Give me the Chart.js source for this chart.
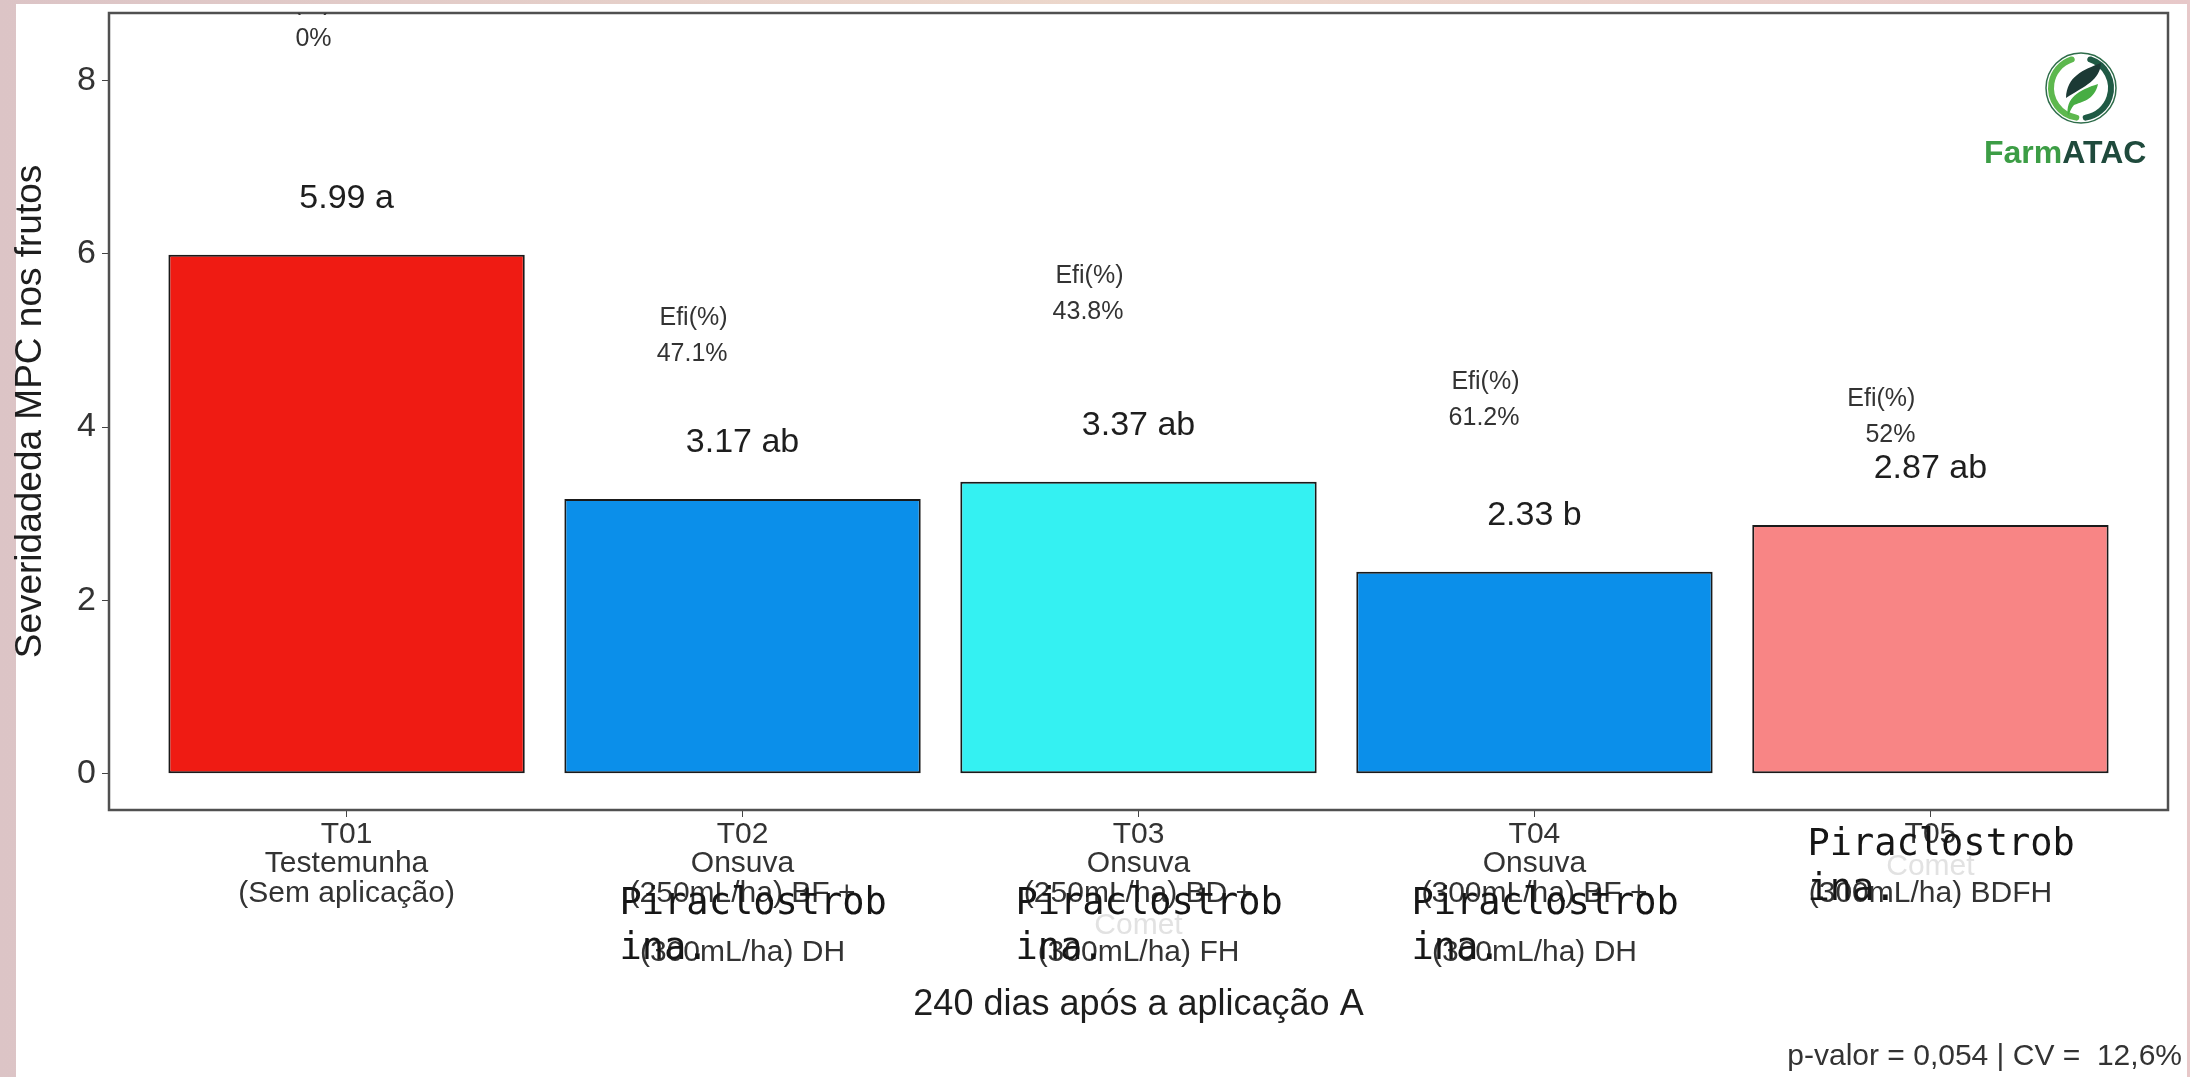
<!DOCTYPE html>
<html>
<head>
<meta charset="utf-8">
<script src="https://cdn.jsdelivr.net/npm/chart.js@4.4.1/dist/chart.umd.min.js"></script>
<style>
  html, body { margin: 0; padding: 0; background: #e2c9ca; }
  #wrap { width: 2190px; height: 1077px; position: relative; }
</style>
</head>
<body>
<div id="wrap"><canvas id="chart"></canvas></div>
<script>
// Data
const categories = ['T01', 'T02', 'T03', 'T04', 'T05'];
const xLabelLines = [
    ['T01', 'Testemunha', '(Sem aplicação)'],
    ['T02', 'Onsuva', '(250mL/ha) BF +', '', '(300mL/ha) DH'],
    ['T03', 'Onsuva', '(250mL/ha) BD +', '', '(300mL/ha) FH'],
    ['T04', 'Onsuva', '(300mL/ha) BF +', '', '(300mL/ha) DH'],
    ['T05', '', '(300mL/ha) BDFH']
];
const severity = [5.99, 3.17, 3.37, 2.33, 2.87];
const letters = ['a', 'ab', 'ab', 'b', 'ab'];
const efficacy = ['0%', '47.1%', '43.8%', '61.2%', '52%'];
const efiLabelY = [8.89, 5.26, 5.74, 4.52, 4.32];
const hiddenLine = [null, 3, 3, 3, 1];
const hiddenText = ['', '', 'Comet', '', 'Comet'];
const overlayText = ['Piraclostrob', 'ina.'];
const yTicks = [0, 2, 4, 6, 8];
const barColors = ['#ef1b13', '#0b8fea', '#34f1f2', '#0b8fea', '#f88585'];

const FONT = "'Liberation Sans', Arial, sans-serif";
const MONO = "'DejaVu Sans Mono', 'Liberation Mono', monospace";
const X_TICK_LEN = 7;
const X_TICK_PAD = 3;
const X_LINE_H = 29.4;

function drawLogo(ctx, cx, cy) {
    ctx.save();
    ctx.lineCap = 'round';
    ctx.lineWidth = 6;
    ctx.strokeStyle = '#5db84e';
    ctx.beginPath(); ctx.arc(cx, cy, 30, Math.PI * 0.55, Math.PI * 1.4); ctx.stroke();
    ctx.strokeStyle = '#1f5a44';
    ctx.beginPath(); ctx.arc(cx, cy, 30, -Math.PI * 0.4, Math.PI * 0.45); ctx.stroke();
    ctx.lineWidth = 1.5;
    ctx.strokeStyle = '#2f6d4b';
    ctx.beginPath(); ctx.arc(cx, cy, 35, 0, Math.PI * 2); ctx.stroke();
    // upper leaf
    ctx.fillStyle = '#1c3a35';
    ctx.beginPath();
    ctx.moveTo(cx - 15, cy + 10);
    ctx.bezierCurveTo(cx - 14, cy - 12, cx + 2, cy - 18, cx + 20, cy - 25);
    ctx.bezierCurveTo(cx + 19, cy - 8, cx + 4, cy - 2, cx - 15, cy + 10);
    ctx.fill();
    // lower leaf
    ctx.fillStyle = '#47ad43';
    ctx.beginPath();
    ctx.moveTo(cx - 13, cy + 28);
    ctx.bezierCurveTo(cx - 16, cy + 10, cx - 2, cy + 2, cx + 17, cy - 4);
    ctx.bezierCurveTo(cx + 14, cy + 12, cx + 0, cy + 14, cx - 7, cy + 17);
    ctx.bezierCurveTo(cx - 10, cy + 20, cx - 11, cy + 24, cx - 13, cy + 28);
    ctx.fill();
    // name
    ctx.font = 'bold 32px ' + FONT;
    ctx.textBaseline = 'alphabetic';
    ctx.textAlign = 'left';
    ctx.fillStyle = '#3c9d45';
    ctx.fillText('Farm', 1984, 163);
    const w = ctx.measureText('Farm').width;
    ctx.fillStyle = '#1f4a3c';
    ctx.fillText('ATAC', 1984 + w, 163);
    ctx.restore();
}

const backgroundPlugin = {
    id: 'background',
    beforeDraw(chart) {
        const ctx = chart.ctx;
        ctx.save();
        const g = ctx.createLinearGradient(0, 0, chart.width, 0);
        g.addColorStop(0, '#dcc4c6');
        g.addColorStop(0.5, '#ecd7cb');
        g.addColorStop(1, '#e7c8c9');
        ctx.fillStyle = g;
        ctx.fillRect(0, 0, chart.width, chart.height);
        ctx.fillStyle = '#ffffff';
        ctx.fillRect(16, 4, 2171, chart.height - 4);
        ctx.restore();
    }
};

const annotationPlugin = {
    id: 'annotations',
    afterDatasetsDraw(chart) {
        const ctx = chart.ctx;
        const area = chart.chartArea;
        const xs = chart.scales.x;
        const ys = chart.scales.y;
        ctx.save();

        // panel frame
        ctx.strokeStyle = '#505050';
        ctx.lineWidth = 2.5;
        ctx.strokeRect(area.left, area.top, area.right - area.left, area.bottom - area.top);

        // labels inside the panel (clipped like the original)
        ctx.save();
        ctx.beginPath();
        ctx.rect(area.left, area.top, area.right - area.left, area.bottom - area.top);
        ctx.clip();
        ctx.textBaseline = 'middle';
        severity.forEach((v, i) => {
            const cx = xs.getPixelForValue(i);
            ctx.font = '34px ' + FONT;
            ctx.fillStyle = '#1e1e1e';
            ctx.textAlign = 'center';
            ctx.fillText(v.toFixed(2) + ' ' + letters[i], cx, ys.getPixelForValue(v + 0.65));
            ctx.font = '25px ' + FONT;
            ctx.fillStyle = '#333333';
            ctx.textAlign = 'right';
            const ey = ys.getPixelForValue(efiLabelY[i]);
            ctx.fillText('Efi(%)', cx - 15, ey);
            ctx.fillText(efficacy[i], cx - 15, ey + 36);
        });
        ctx.restore();

        // faint hidden label lines and the monospace overlay
        const base = xs.top + X_TICK_LEN + X_TICK_PAD;
        categories.forEach((c, i) => {
            if (hiddenLine[i] === null) return;
            const cx = xs.getPixelForValue(i);
            const yc = base + X_LINE_H * (hiddenLine[i] + 0.5);
            ctx.textBaseline = 'middle';
            if (hiddenText[i]) {
                ctx.font = '30px ' + FONT;
                ctx.fillStyle = '#e2e2e2';
                ctx.textAlign = 'center';
                ctx.fillText(hiddenText[i], cx, yc + 3);
            }
            ctx.font = '37px ' + MONO;
            ctx.fillStyle = '#161616';
            ctx.textAlign = 'left';
            ctx.fillText(overlayText[0], cx - 123, yc - 19);
            ctx.fillText(overlayText[1], cx - 123, yc + 26);
        });

        // axis titles and footer
        ctx.fillStyle = '#1e1e1e';
        ctx.textAlign = 'center';
        ctx.textBaseline = 'middle';
        ctx.font = '36px ' + FONT;
        ctx.fillText('240 dias após a aplicação A', (area.left + area.right) / 2, 1005);
        ctx.save();
        ctx.translate(31, (area.top + area.bottom) / 2);
        ctx.rotate(-Math.PI / 2);
        ctx.font = '37px ' + FONT;
        ctx.fillText('Severidadeda MPC nos frutos', 0, 0);
        ctx.restore();
        ctx.font = '30px ' + FONT;
        ctx.fillStyle = '#333333';
        ctx.textAlign = 'right';
        ctx.fillText('p-valor = 0,054 | CV =  12,6%', 2182, 1057);

        drawLogo(ctx, 2081, 88);
        ctx.restore();
    }
};

const chart = new Chart(document.getElementById('chart'), {
    type: 'bar',
    data: {
        datasets: [{
            data: severity.map((v, i) => ({ x: i, y: v })),
            backgroundColor: barColors,
            borderColor: '#1a1a1a',
            borderWidth: 2,
            borderSkipped: false,
            barPercentage: 0.9,
            categoryPercentage: 1.0
        }]
    },
    options: {
        responsive: true,
        maintainAspectRatio: false,
        animation: false,
        layout: { padding: { left: 0, top: 13, right: 22, bottom: 0 } },
        plugins: {
            legend: { display: false },
            tooltip: { enabled: false }
        },
        scales: {
            x: {
                type: 'linear',
                min: -0.6,
                max: 4.6,
                offset: false,
                border: { display: false },
                grid: { drawOnChartArea: false, drawTicks: true, tickLength: X_TICK_LEN, color: '#444', offset: false },
                afterBuildTicks: (scale) => { scale.ticks = categories.map((c, i) => ({ value: i })); },
                afterFit: (scale) => {
                    scale.height = 1077 - 810;
                    scale.paddingLeft = 0;
                    scale.paddingRight = 0;
                },
                ticks: {
                    autoSkip: false,
                    maxRotation: 0,
                    padding: X_TICK_PAD,
                    color: '#333333',
                    font: { family: FONT, size: 30, lineHeight: X_LINE_H / 30 },
                    callback: (value) => xLabelLines[value]
                }
            },
            y: {
                min: -0.418,
                max: 8.778,
                border: { display: false },
                grid: { drawOnChartArea: false, drawTicks: true, tickLength: 7, color: '#444' },
                afterBuildTicks: (scale) => { scale.ticks = yTicks.map(v => ({ value: v })); },
                afterFit: (scale) => {
                    scale.width = 109;
                    scale.paddingTop = 0;
                    scale.paddingBottom = 0;
                },
                ticks: {
                    padding: 6,
                    color: '#333333',
                    font: { family: FONT, size: 34 }
                }
            }
        }
    },
    plugins: [backgroundPlugin, annotationPlugin]
});
</script>
</body>
</html>
